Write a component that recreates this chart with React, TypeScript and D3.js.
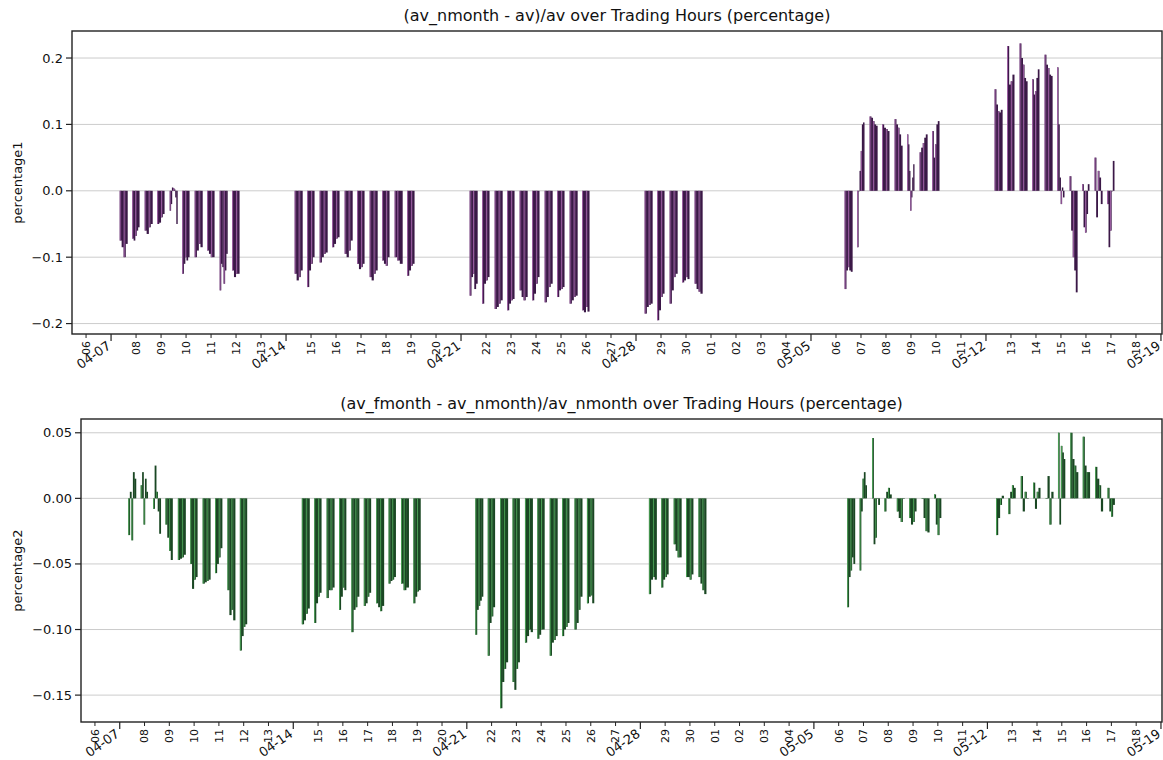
import React from "react";
import * as d3 from "d3";

// ---------- data ----------
const tradingDays = [
  "2025-04-07", "2025-04-08", "2025-04-09", "2025-04-10", "2025-04-11",
  "2025-04-14", "2025-04-15", "2025-04-16", "2025-04-17", "2025-04-18",
  "2025-04-21", "2025-04-22", "2025-04-23", "2025-04-24", "2025-04-25",
  "2025-04-28", "2025-04-29", "2025-04-30",
  "2025-05-06", "2025-05-07", "2025-05-08", "2025-05-09",
  "2025-05-12", "2025-05-13", "2025-05-14", "2025-05-15", "2025-05-16",
];
const daysWithoutNight = ["2025-04-30"];
const daySessionHours = [8.3, 15.7];
const nightSessionHours = [20.3, 27.1];

// percentage1 per session (day / night alternating), sampled values
const pct1: number[][] = [
  [-0.075, -0.085, -0.1, -0.08], [-0.072, -0.075, -0.068, -0.06, -0.055],
  [-0.06, -0.065, -0.055, -0.05], [-0.05, -0.048, -0.04, -0.035],
  [-0.03, -0.02, 0.005, 0.004, 0.002, -0.01, -0.05], [-0.125, -0.11, -0.1, -0.105, -0.1],
  [-0.1, -0.09, -0.08, -0.085], [-0.09, -0.095, -0.1, -0.1],
  [-0.15, -0.11, -0.115, -0.14, -0.12, -0.095], [-0.12, -0.13, -0.125, -0.125],
  [-0.125, -0.135, -0.13, -0.12], [-0.145, -0.12, -0.11, -0.1],
  [-0.108, -0.1, -0.095, -0.093], [-0.085, -0.08, -0.072, -0.07],
  [-0.095, -0.1, -0.09, -0.075], [-0.11, -0.118, -0.115, -0.11],
  [-0.13, -0.135, -0.125, -0.12], [-0.105, -0.11, -0.113, -0.1],
  [-0.1, -0.105, -0.11], [-0.128, -0.12, -0.113, -0.11],
  [-0.158, -0.13, -0.125, -0.148, -0.14], [-0.17, -0.14, -0.135, -0.13],
  [-0.178, -0.175, -0.17, -0.165], [-0.18, -0.17, -0.165, -0.163],
  [-0.15, -0.16, -0.165, -0.16], [-0.165, -0.155, -0.14, -0.13],
  [-0.168, -0.16, -0.145, -0.14], [-0.16, -0.15, -0.148, -0.145],
  [-0.17, -0.165, -0.16, -0.158], [-0.18, -0.183, -0.175, -0.182],
  [-0.185, -0.175, -0.172, -0.17], [-0.195, -0.18, -0.16, -0.155],
  [-0.17, -0.15, -0.13, -0.125], [-0.138, -0.135, -0.13, -0.133],
  [-0.14, -0.148, -0.152, -0.155],
  [-0.148, -0.12, -0.115, -0.12, -0.122], [-0.085, 0.0, 0.03, 0.06, 0.1, 0.103],
  [0.112, 0.11, 0.105, 0.1, 0.098], [0.1, 0.095, 0.093, 0.09],
  [0.108, 0.1, 0.095, 0.085, 0.068], [0.085, 0.07, 0.03, -0.03, -0.01, 0.02, 0.04],
  [0.058, 0.065, 0.072, 0.08, 0.085], [0.09, 0.05, 0.07, 0.1, 0.105],
  [0.153, 0.13, 0.12, 0.118, 0.122], [0.218, 0.16, 0.165, 0.175],
  [0.222, 0.2, 0.19, 0.17, 0.165], [0.168, 0.145, 0.15, 0.17, 0.183],
  [0.205, 0.19, 0.185, 0.175, 0.173], [0.186, 0.1, 0.02, -0.02, 0.005, -0.01],
  [0.022, -0.06, -0.1, -0.12, -0.153], [0.01, -0.055, -0.063, -0.035, 0.01],
  [0.05, -0.04, 0.03, 0.02, -0.02], [-0.02, -0.085, -0.06, 0.0, 0.045],
];

// percentage2 per session
const pct2: number[][] = [
  [-0.028, 0.005, -0.032, 0.02, 0.015], [0.01, 0.02, -0.02, 0.015, 0.005],
  [-0.008, 0.025, 0.005, -0.01, -0.027], [-0.02, -0.03, -0.04, -0.047],
  [-0.047, -0.046, -0.045, -0.043], [-0.05, -0.069, -0.062, -0.06],
  [-0.065, -0.064, -0.063, -0.062], [-0.057, -0.05, -0.045, -0.038],
  [-0.07, -0.089, -0.085, -0.093], [-0.116, -0.105, -0.098, -0.096],
  [-0.096, -0.093, -0.088, -0.084], [-0.095, -0.08, -0.075, -0.072],
  [-0.076, -0.07, -0.07, -0.068], [-0.085, -0.075, -0.068, -0.07],
  [-0.102, -0.085, -0.083, -0.075], [-0.082, -0.08, -0.075, -0.072],
  [-0.08, -0.083, -0.086, -0.082], [-0.065, -0.063, -0.062, -0.06],
  [-0.065, -0.07, -0.068], [-0.08, -0.075, -0.071, -0.07],
  [-0.104, -0.085, -0.082, -0.078, -0.075], [-0.12, -0.095, -0.09, -0.083],
  [-0.16, -0.14, -0.13, -0.125], [-0.14, -0.146, -0.13, -0.125],
  [-0.11, -0.105, -0.1, -0.102], [-0.107, -0.104, -0.1, -0.1],
  [-0.12, -0.11, -0.108, -0.105], [-0.105, -0.1, -0.098, -0.095],
  [-0.1, -0.095, -0.085, -0.075], [-0.08, -0.075, -0.074, -0.08],
  [-0.073, -0.062, -0.06, -0.062], [-0.068, -0.062, -0.06, -0.058],
  [-0.035, -0.04, -0.045, -0.045], [-0.06, -0.06, -0.062, -0.058],
  [-0.06, -0.065, -0.07, -0.073],
  [-0.083, -0.06, -0.055, -0.045, -0.05], [-0.055, -0.01, 0.015, 0.02, 0.01],
  [0.046, -0.035, -0.03, 0.0, -0.005], [-0.01, 0.005, 0.008, 0.003],
  [-0.01, -0.015, -0.018, 0.0], [-0.015, -0.02, -0.018, -0.01],
  [0.0, -0.015, -0.025, -0.026], [0.003, -0.02, -0.028, -0.015],
  [-0.028, -0.015, -0.005, 0.002], [-0.012, 0.005, 0.01, 0.008],
  [0.017, -0.01, 0.005, 0.0], [0.012, -0.008, 0.005, 0.008],
  [0.0, 0.017, -0.02, 0.005], [0.05, -0.02, 0.04, 0.035, 0.03],
  [0.05, 0.03, 0.025, 0.02], [0.047, 0.025, 0.02, 0.02],
  [0.024, 0.015, 0.01, -0.01], [0.008, -0.01, -0.014, -0.005],
];

const yTicks1 = [-0.2, -0.1, 0.0, 0.1, 0.2];
const yTicks2 = [-0.15, -0.1, -0.05, 0.0, 0.05];
const title1 = "(av_nmonth - av)/av over Trading Hours (percentage)";
const title2 = "(av_fmonth - av_nmonth)/av_nmonth over Trading Hours (percentage)";
const ylabel1 = "percentage1";
const ylabel2 = "percentage2";
const xDomain = [new Date(2025, 3, 5, 10, 30), new Date(2025, 4, 19, 1, 0)];

// ---------- helpers ----------
function parseDay(s: string) {
  const [y, m, d] = s.split("-").map(Number);
  return new Date(y, m - 1, d);
}
function addHours(d: Date, h: number) {
  return new Date(d.getTime() + h * 3600 * 1000);
}
const sessions: { start: Date; end: Date }[] = [];
tradingDays.forEach((s) => {
  const d = parseDay(s);
  sessions.push({ start: addHours(d, daySessionHours[0]), end: addHours(d, daySessionHours[1]) });
  if (!daysWithoutNight.includes(s)) {
    sessions.push({ start: addHours(d, nightSessionHours[0]), end: addHours(d, nightSessionHours[1]) });
  }
});

const FONT = "DejaVu Sans, sans-serif";
const minus = (s: string) => s.replace("-", "\u2212");

type PanelProps = {
  top: number; bottom: number; left: number; right: number;
  values: number[][]; yDomain: [number, number]; yTicks: number[]; yFmt: string;
  title: string; titleY: number; ylabel: string; dark: string; light: string;
};

function Panel(p: PanelProps) {
  const x = d3.scaleTime().domain(xDomain).range([p.left, p.right]);
  const y = d3.scaleLinear().domain(p.yDomain).range([p.bottom, p.top]);
  const fmt = d3.format(p.yFmt);
  const y0 = y(0);
  const days = d3.timeDay.range(d3.timeDay.ceil(xDomain[0]), xDomain[1]);
  const majors = days.filter((d) => d.getDay() === 1);
  const minors = days.filter((d) => d.getDay() !== 1);
  const bars: React.ReactNode[] = [];
  sessions.forEach((s, i) => {
    const vals = p.values[i] || [];
    const n = vals.length;
    const dt = (s.end.getTime() - s.start.getTime()) / n;
    vals.forEach((v, j) => {
      const x0 = x(new Date(s.start.getTime() + j * dt));
      const x1 = x(new Date(s.start.getTime() + (j + 1) * dt));
      const yy = y(v);
      bars.push(
        <rect key={`b${i}-${j}`} x={x0} width={Math.max(x1 - x0, 0.8) + 0.3}
          y={Math.min(yy, y0)} height={Math.max(Math.abs(yy - y0), 0.5)} fill={p.dark} />
      );
    });
    [0, Math.floor(n / 2)].forEach((j, k) => {
      const v = vals[j];
      const x0 = x(new Date(s.start.getTime() + j * dt));
      const yy = y(v);
      bars.push(
        <rect key={`l${i}-${k}`} x={x0 + (k === 0 ? 0 : 0.2)} width={0.9}
          y={Math.min(yy, y0)} height={Math.max(Math.abs(yy - y0), 0.5)} fill={p.light} />
      );
    });
  });
  const cx = (p.left + p.right) / 2;
  const cy = (p.top + p.bottom) / 2;
  return (
    <g>
      <text x={cx} y={p.titleY} textAnchor="middle" fontSize={16} fontFamily={FONT} fill="#111">{p.title}</text>
      {p.yTicks.map((t) => (
        <g key={`g${t}`}>
          <line x1={p.left} x2={p.right} y1={y(t)} y2={y(t)} stroke="#cccccc" strokeWidth={1} />
          <line x1={p.left - 6} x2={p.left} y1={y(t)} y2={y(t)} stroke="#222" strokeWidth={1.2} />
          <text x={p.left - 9} y={y(t)} dy="0.35em" textAnchor="end" fontSize={13} fontFamily={FONT} fill="#111">
            {minus(fmt(t))}
          </text>
        </g>
      ))}
      {bars}
      <rect x={p.left} y={p.top} width={p.right - p.left} height={p.bottom - p.top}
        fill="none" stroke="#222" strokeWidth={1.4} />
      {minors.map((d) => (
        <g key={`m${d.getTime()}`}>
          <line x1={x(d)} x2={x(d)} y1={p.bottom} y2={p.bottom + 4} stroke="#222" strokeWidth={1} />
          <text transform={`translate(${x(d)},${p.bottom + 7}) rotate(-90)`} textAnchor="end" dy="0.35em"
            fontSize={11} fontFamily={FONT} fill="#111">{d3.timeFormat("%d")(d)}</text>
        </g>
      ))}
      {majors.map((d) => (
        <g key={`M${d.getTime()}`}>
          <line x1={x(d)} x2={x(d)} y1={p.bottom} y2={p.bottom + 7} stroke="#222" strokeWidth={1.2} />
          <text transform={`translate(${x(d) - 2},${p.bottom + 10}) rotate(-35)`} textAnchor="end" dy="0.35em"
            fontSize={13} fontFamily={FONT} fill="#111">{d3.timeFormat("%m-%d")(d)}</text>
        </g>
      ))}
      <text transform={`translate(17,${cy}) rotate(-90)`} textAnchor="middle" dy="0.35em"
        fontSize={13} fontFamily={FONT} fill="#111">{p.ylabel}</text>
    </g>
  );
}

export default function App() {
  return (
    <svg width={1163} height={760} style={{ position: "absolute", left: 0, top: 0, background: "#fff" }}>
      <rect x={0} y={0} width={1163} height={760} fill="#fff" />
      <Panel top={31} bottom={334} left={72} right={1162} values={pct1} yDomain={[-0.2157, 0.2407]}
        yTicks={yTicks1} yFmt=".1f" title={title1} titleY={21} ylabel={ylabel1} dark="#3b1847" light="#a565ab" />
      <Panel top={419} bottom={722} left={81} right={1162} values={pct2} yDomain={[-0.1705, 0.0605]}
        yTicks={yTicks2} yFmt=".2f" title={title2} titleY={409} ylabel={ylabel2} dark="#1a4723" light="#4ea558" />
    </svg>
  );
}
